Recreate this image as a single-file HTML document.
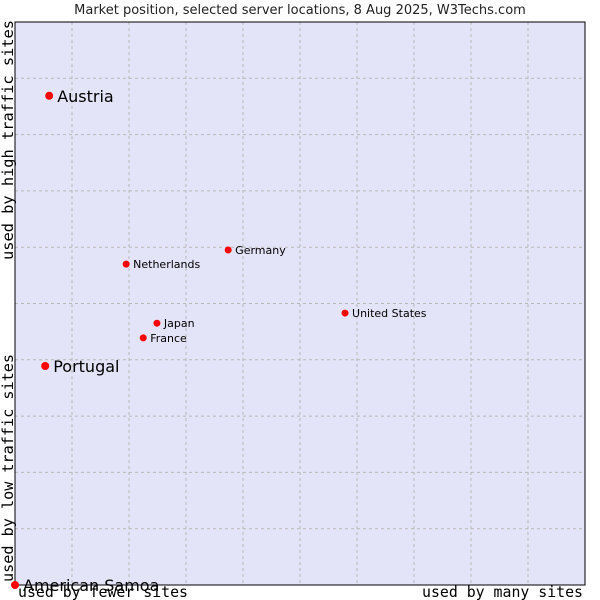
<!DOCTYPE html>
<html><head><meta charset="utf-8"><style>
body{margin:0;background:#fff}
svg{display:block}
</style></head><body>
<svg id="chart" width="600" height="600" xmlns="http://www.w3.org/2000/svg">
<text x="300" y="14" text-anchor="middle" font-family="DejaVu Sans, sans-serif" font-size="13" fill="#222">Market position, selected server locations, 8 Aug 2025, W3Techs.com</text>
<rect x="15" y="22" width="570" height="563" fill="#e4e4f8" stroke="none"/>
<g id="grid"></g>
<rect x="15" y="22" width="570" height="563" fill="none" stroke="#000" stroke-width="1"/>
<g id="points"></g>
<text x="13" y="260" transform="rotate(-90 13 260)" textLength="240" lengthAdjust="spacingAndGlyphs" font-family="DejaVu Sans Mono, monospace" font-size="15" fill="#000">used by high traffic sites</text>
<text x="13" y="582" transform="rotate(-90 13 582)" textLength="228" lengthAdjust="spacingAndGlyphs" font-family="DejaVu Sans Mono, monospace" font-size="15" fill="#000">used by low traffic sites</text>
<text x="18" y="597" textLength="170" lengthAdjust="spacingAndGlyphs" font-family="DejaVu Sans Mono, monospace" font-size="15" fill="#000">used by fewer sites</text>
<text x="422" y="597" textLength="161" lengthAdjust="spacingAndGlyphs" font-family="DejaVu Sans Mono, monospace" font-size="15" fill="#000">used by many sites</text>
</svg>
<script>
const names = ["Austria","Portugal","American Samoa","Netherlands","Germany","United States","Japan","France"];
const xValues = [6.0,5.3,0,19.5,37.4,57.9,24.9,22.5];
const yValues = [86.9,38.9,0,57.0,59.5,48.3,46.5,43.9];
const bigLabel = [true,true,true,false,false,false,false,false];
const NS="http://www.w3.org/2000/svg";
const L=15,T=22,W=570,H=563;
function xs(v){return L+v/100*W;}
function ys(v){return T+H-v/100*H;}
const grid=document.getElementById('grid');
for(let i=1;i<10;i++){
  const vx=document.createElementNS(NS,'line');
  vx.setAttribute('x1',xs(i*10));vx.setAttribute('x2',xs(i*10));vx.setAttribute('y1',T);vx.setAttribute('y2',T+H);
  vx.setAttribute('stroke','#b8b8b8');vx.setAttribute('stroke-dasharray','3,3');
  
  
  grid.appendChild(vx);
  const hy=document.createElementNS(NS,'line');
  hy.setAttribute('y1',ys(i*10));hy.setAttribute('y2',ys(i*10));hy.setAttribute('x1',L);hy.setAttribute('x2',L+W);
  hy.setAttribute('stroke','#b8b8b8');hy.setAttribute('stroke-dasharray','3,3');
  
  
  grid.appendChild(hy);
}
const pts=document.getElementById('points');
names.forEach((n,i)=>{
  const cx=xs(xValues[i]),cy=ys(yValues[i]);
  const c=document.createElementNS(NS,'circle');
  c.setAttribute('cx',cx);c.setAttribute('cy',cy);c.setAttribute('r',bigLabel[i]?4:3.5);c.setAttribute('fill','#f00');
  
  
  pts.appendChild(c);
  const t=document.createElementNS(NS,'text');
  t.setAttribute('x',cx+(bigLabel[i]?8:7));t.setAttribute('y',cy+(bigLabel[i]?6:4));
  t.setAttribute('font-family','DejaVu Sans, sans-serif');
  t.setAttribute('font-size',bigLabel[i]?16:11);
  t.setAttribute('fill','#000');
  t.textContent=n;
  
  
  pts.appendChild(t);
});
</script>
</body></html>
